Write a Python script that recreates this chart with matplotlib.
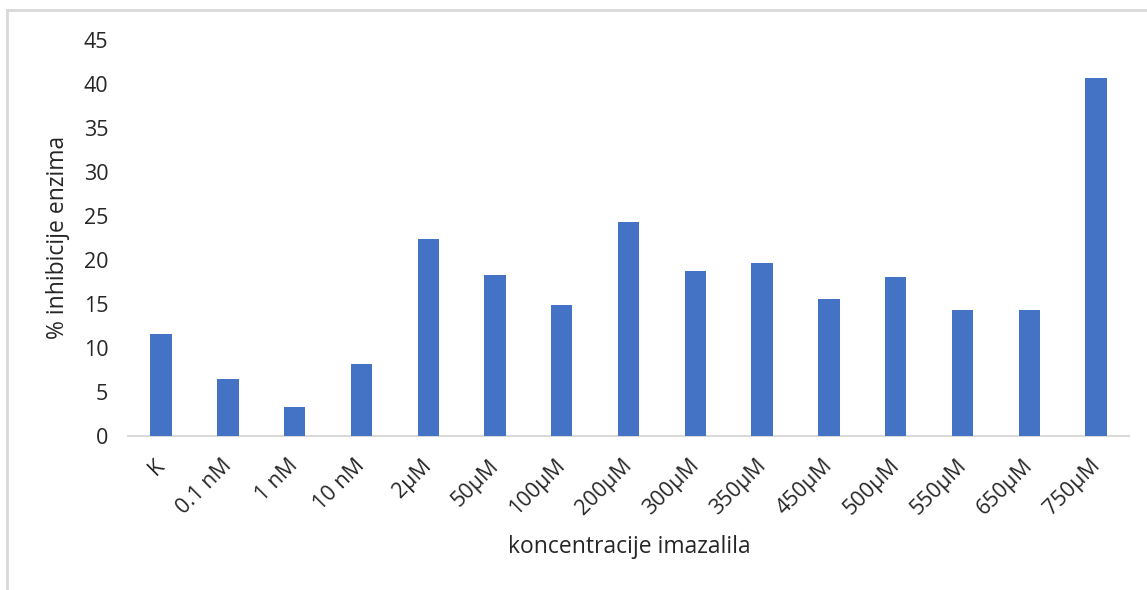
import matplotlib
matplotlib.use("Agg")
import matplotlib.pyplot as plt
from matplotlib.lines import Line2D
import matplotlib.transforms as mtransforms

categories = ["K", "0.1 nM", "1 nM", "10 nM", "2µM", "50µM", "100µM", "200µM",
              "300µM", "350µM", "450µM", "500µM", "550µM", "650µM", "750µM"]
values = [11.6, 6.5, 3.3, 8.1, 22.4, 18.3, 14.9, 24.3, 18.7, 19.6, 15.5, 18.0, 14.25, 14.25, 40.6]
yticks = [0, 5, 10, 15, 20, 25, 30, 35, 40, 45]

plt.rcParams['font.family'] = ['Open Sans', 'DejaVu Sans']
txt = '#262626'

fig = plt.figure(figsize=(11.47, 5.90), dpi=100)
ax = fig.add_axes([0.1113, 0.2615, 0.8734, 0.6712])

x = list(range(len(categories)))
ax.bar(x, values, width=0.32, color='#4472C4', zorder=3)

ax.set_xlim(-0.5, len(categories) - 0.5)
ax.set_ylim(0, 45)
ax.set_yticks(yticks)
ax.set_yticklabels([str(t) for t in yticks], fontsize=15.5, color=txt)
ax.set_xticks(x)
ax.set_xticklabels(categories, fontsize=15.5, color=txt, rotation=45, ha='right', va='top')
ax.tick_params(axis='both', length=0)
ax.tick_params(axis='y', pad=14)
ax.tick_params(axis='x', pad=14)

offset = mtransforms.ScaledTranslation(8 / 100, 0, fig.dpi_scale_trans)
for lbl in ax.get_xticklabels():
    lbl.set_transform(lbl.get_transform() + offset)

for s in ['top', 'right', 'left']:
    ax.spines[s].set_visible(False)
ax.spines['bottom'].set_color('#d9d9d9')
ax.spines['bottom'].set_linewidth(1.5)

fig.text(0.5485, 1 - 547 / 590, 'koncentracije imazalila', fontsize=16.5, color=txt,
         ha='center', va='center')
fig.text(58 / 1147, 1 - 237 / 590, '% inhibicije enzima', fontsize=16.5, color=txt,
         ha='center', va='center', rotation=90)

# outer chart border
bx, by = 7 / 1147, 1 - 10 / 590
fig.add_artist(Line2D([bx, 1.0], [by, by], transform=fig.transFigure, color='#d9d9d9', lw=2))
fig.add_artist(Line2D([bx, bx], [0, by], transform=fig.transFigure, color='#d9d9d9', lw=2))

fig.savefig('out.png', dpi=100)
